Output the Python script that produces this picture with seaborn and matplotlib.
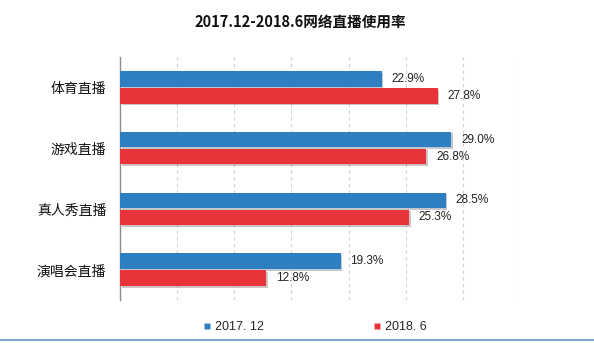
import matplotlib
matplotlib.use("Agg")
import matplotlib.pyplot as plt
import matplotlib.patheffects as pe
from matplotlib.lines import Line2D
import seaborn as sns
import pandas as pd
import numpy as np

categories = ["体育直播", "游戏直播", "真人秀直播", "演唱会直播"]
series_names = ["2017. 12", "2018. 6"]
values_2017_12 = [22.9, 29.0, 28.5, 19.3]
values_2018_6 = [27.8, 26.8, 25.3, 12.8]
title = "2017.12-2018.6网络直播使用率"
colors = ["#2E7EC2", "#E8333B"]

sns.set_theme(style="white")
plt.rcParams['font.family'] = ['Noto Sans CJK SC', 'DejaVu Sans']

df = pd.DataFrame({
    "category": categories * 2,
    "series": [series_names[0]] * 4 + [series_names[1]] * 4,
    "value": values_2017_12 + values_2018_6,
})

fig = plt.figure(figsize=(5.94, 3.43), dpi=100)
ax = fig.add_axes([120/594, 1 - 300/343, 400/594, 243/343])

sns.barplot(data=df, y="category", x="value", hue="series", orient="h",
            palette=colors, width=0.56, gap=0.08, ax=ax, legend=False,
            saturation=1, edgecolor="none", zorder=3)

for p in ax.patches:
    p.set_path_effects([pe.SimplePatchShadow(offset=(1.2, -1.2), alpha=0.25), pe.Normal()])

for cont in ax.containers:
    ax.bar_label(cont, labels=[f"{v:.1f}%" for v in cont.datavalues], padding=7,
                 fontsize=8.5, color="#222222", family=['Liberation Sans', 'DejaVu Sans'])

ax.set_xlim(0, 35)
ax.set_ylim(3.5, -0.5)
ax.set_xticks(np.arange(0, 36, 5))
ax.set_xticklabels([])
ax.tick_params(axis='x', length=0)
ax.xaxis.grid(True, linestyle=(0, (3, 3)), color="#D0D0D0", linewidth=0.8)
ax.set_axisbelow(True)
ax.set_xlabel("")
ax.set_ylabel("")
ax.set_yticks(range(len(categories)))
ax.set_yticklabels(categories, fontsize=10, color="#111111")
ax.tick_params(axis='y', length=0, pad=10)
ax.set_yticks([0.5, 1.5, 2.5], minor=True)
ax.tick_params(axis='y', which='minor', length=3, direction='in', color="#888888")
for s in ["top", "right", "bottom"]:
    ax.spines[s].set_visible(False)
ax.spines["left"].set_color("#8C8C8C")
ax.spines["left"].set_linewidth(1.0)

fig.text(0.505, 1 - 22/343, title, ha="center", va="center", fontsize=10.5,
         fontweight="bold", color="#111111")

handles = [Line2D([], [], marker="s", linestyle="none", markersize=4,
                  markerfacecolor=c, markeredgecolor="none") for c in colors]
fig.legend(handles, series_names, loc="center", bbox_to_anchor=(0.53, 1 - 327/343),
           ncol=2, frameon=False, handlelength=0.6, handletextpad=0.3,
           columnspacing=8.8, prop={'family': ['Liberation Sans', 'DejaVu Sans'], 'size': 9})

fig.add_artist(Line2D([0.0, 1.0], [1 - 340/343, 1 - 340/343], color="#7FA7CF",
                      linewidth=1.5, transform=fig.transFigure))

fig.savefig("out.png", dpi=100)
